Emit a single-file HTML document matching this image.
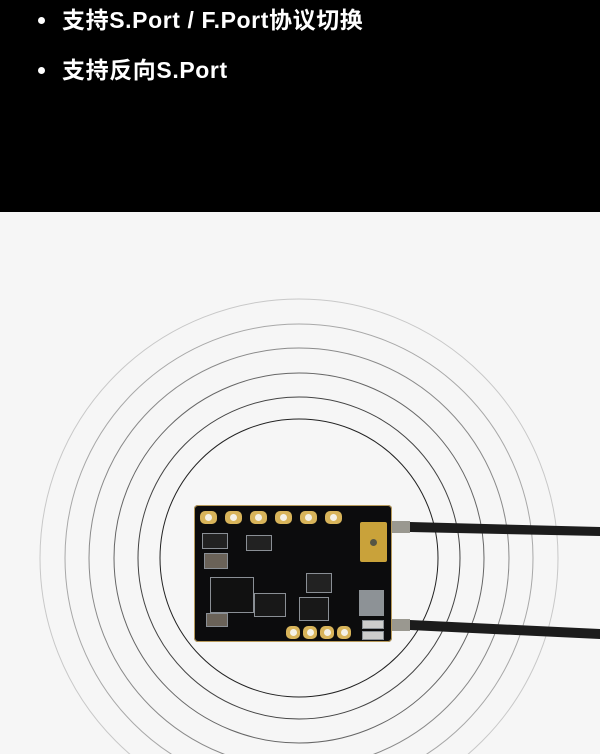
<!DOCTYPE html>
<html><head><meta charset="utf-8"><style>
html,body{margin:0;padding:0;overflow:hidden;width:600px;height:754px}
body{position:relative;background:#f6f6f6;font-family:"Liberation Sans","Noto Sans CJK SC",sans-serif}
.top{position:absolute;left:0;top:0;width:600px;height:212px;background:#000}
.t{position:absolute;left:62px;color:#fff;font-weight:bold;font-size:23px;white-space:nowrap;letter-spacing:0.6px;line-height:28px}
.b{position:absolute;left:38px;width:7px;height:7px;border-radius:50%;background:#fff}
.board{position:absolute;left:194px;top:505px;width:198px;height:137px;background:#0c0c0d;border-radius:4px;box-shadow:0 0 0 1px #b89a5a inset}
.pad{position:absolute;width:17px;height:13px;border-radius:5px;background:#d8b45a}
.pad:after{content:"";position:absolute;left:5px;top:3px;width:7px;height:7px;border-radius:50%;background:#f4f1e6}
.sp{width:14px}
.sp:after{left:4px}
.c{position:absolute;background:#333;border:1px solid #8a8f95}
svg{display:block}
</style></head><body>
<div class="top"></div>
<div class="b" style="top:17px"></div>
<div class="t" style="top:6px">支持S.Port / F.Port协议切换</div>
<div class="b" style="top:67px"></div>
<div class="t" style="top:56px">支持反向S.Port</div>
<svg style="position:absolute;left:0;top:212px;overflow:hidden" width="600" height="542">
<g fill="none" transform="translate(0,-212)">
<circle cx="299" cy="558" r="259" stroke="#c8c8c8" stroke-width="1"/>
<circle cx="299" cy="558" r="234" stroke="#a8a8a8" stroke-width="1"/>
<circle cx="299" cy="558" r="210" stroke="#8a8a8a" stroke-width="1"/>
<circle cx="299" cy="558" r="185" stroke="#666" stroke-width="1"/>
<circle cx="299" cy="558" r="161" stroke="#444" stroke-width="1"/>
<circle cx="299" cy="558" r="139" stroke="#222" stroke-width="1"/>
<polygon points="392,522 410,522 600,527 600,536 410,532 392,532" fill="#1c1c1c"/>
<polygon points="392,620 410,620 600,629 600,639 410,630 392,630" fill="#1c1c1c"/>
<rect x="392" y="521" width="18" height="12" fill="#9a9890"/>
<rect x="392" y="619" width="18" height="12" fill="#9a9890"/>
</g></svg>
<div class="board">
<div class="pad" style="left:6px;top:6px"></div>
<div class="pad" style="left:31px;top:6px"></div>
<div class="pad" style="left:56px;top:6px"></div>
<div class="pad" style="left:81px;top:6px"></div>
<div class="pad" style="left:106px;top:6px"></div>
<div class="pad" style="left:131px;top:6px"></div>
<div class="pad sp" style="left:92px;top:121px"></div>
<div class="pad sp" style="left:109px;top:121px"></div>
<div class="pad sp" style="left:126px;top:121px"></div>
<div class="pad sp" style="left:143px;top:121px"></div>
<div style="position:absolute;left:166px;top:17px;width:27px;height:40px;background:#c9a23a;border-radius:2px"></div>
<div style="position:absolute;left:176px;top:34px;width:7px;height:7px;border-radius:50%;background:#554"></div>
<div class="c" style="left:8px;top:28px;width:24px;height:14px;background:#222"></div>
<div class="c" style="left:10px;top:48px;width:22px;height:14px;background:#6a6258"></div>
<div class="c" style="left:16px;top:72px;width:42px;height:34px;background:#111"></div>
<div class="c" style="left:60px;top:88px;width:30px;height:22px;background:#181818"></div>
<div class="c" style="left:105px;top:92px;width:28px;height:22px;background:#181818"></div>
<div class="c" style="left:112px;top:68px;width:24px;height:18px;background:#222"></div>
<div class="c" style="left:52px;top:30px;width:24px;height:14px;background:#222"></div>
<div class="c" style="left:165px;top:85px;width:25px;height:26px;background:#8d9296;border:none"></div>
<div class="c" style="left:168px;top:115px;width:20px;height:7px;background:#ccc"></div>
<div class="c" style="left:168px;top:126px;width:20px;height:7px;background:#ccc"></div>
<div class="c" style="left:12px;top:108px;width:20px;height:12px;background:#6a6258"></div>
</div>
</body></html>
